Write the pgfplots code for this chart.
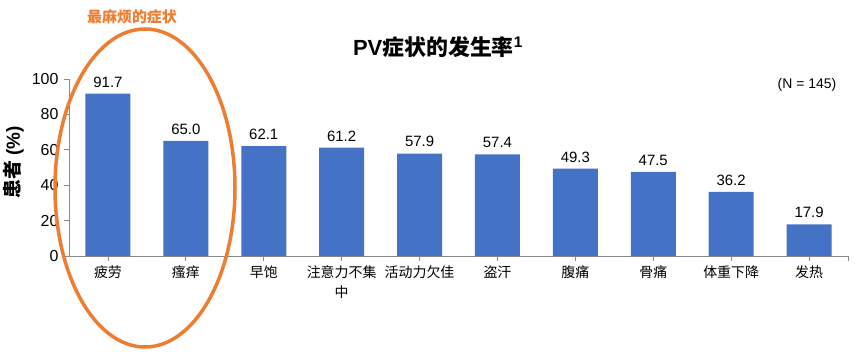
\documentclass[border=0pt]{standalone}
\usepackage{pgfplots}
\pgfplotsset{compat=1.18}
\usepackage{fontspec}
\setmainfont{Liberation Sans}
\newfontfamily\cjk{Noto Sans CJK SC}
\definecolor{barblue}{HTML}{4472C4}
\definecolor{axgray}{HTML}{898989}
\definecolor{orng}{HTML}{ED7D31}
\begin{document}
\begin{tikzpicture}
\useasboundingbox (-69bp,-100bp) rectangle (786bp,256bp);
\begin{axis}[
  scale only axis, width=779bp, height=177bp,
  xmin=-0.5, xmax=9.5, ymin=0, ymax=100,
  axis x line*=bottom, axis y line*=left,
  axis line style={axgray, line width=0.8bp, -},
  tick style={axgray, line width=0.8bp},
  tick align=outside, major tick length=5bp,
  ybar, bar width=45bp,
  xtick={0,...,9},
  extra x ticks={9.5}, extra x tick labels={},
  xticklabels={疲劳,瘙痒,早饱,注意力不集\\中,活动力欠佳,盗汗,腹痛,骨痛,体重下降,发热},
  xticklabel style={font=\cjk\fontsize{14}{20}\selectfont, align=center, text=black, yshift=-1.5bp},
  ytick={0,20,...,100},
  yticklabel style={font=\fontsize{16}{18}\selectfont, text=black, xshift=-2bp},
  /pgf/number format/assume math mode=true,
  ylabel={{\cjk\bfseries 患者} \textbf{(\%)}},
  ylabel style={font=\fontsize{19}{21}\selectfont},
  every axis y label/.append style={at={(axis description cs:-0.071,0.53)}, anchor=center, rotate=0},
  nodes near coords,
  nodes near coords style={font=\fontsize{15}{17}\selectfont, text=black, yshift=3bp, /pgf/number format/.cd, fixed, fixed zerofill, precision=1, assume math mode=true},
  clip=false,
]
\addplot[fill=barblue, draw=none] coordinates {
(0,91.7) (1,65.0) (2,62.1) (3,61.2) (4,57.9) (5,57.4) (6,49.3) (7,47.5) (8,36.2) (9,17.9)};
\end{axis}
\node[font=\fontsize{22}{25}\selectfont\bfseries] at (369bp,209bp) {PV{\cjk 症状的发生率}\textsuperscript{1}};
\node[font=\fontsize{14}{16}\selectfont] at (738bp,171bp) {(N = 145)};
\node[font=\cjk\fontsize{15}{17}\selectfont\bfseries, text=orng] at (63bp,239bp) {最麻烦的症状};
\draw[orng, line width=3.5bp] (76bp,68bp) ellipse [x radius=90bp, y radius=159bp];
\end{tikzpicture}
\end{document}
